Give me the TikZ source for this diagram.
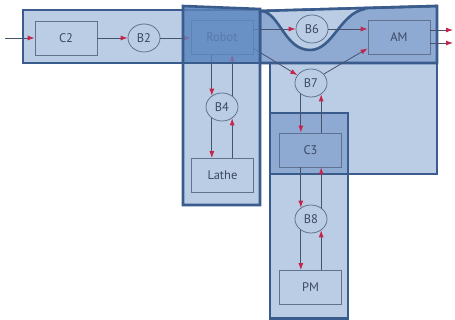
\documentclass[tikz,border=0pt]{standalone}
\usepackage{fontspec}
\setsansfont{PT Sans}
\usetikzlibrary{arrows.meta,shapes.geometric,calc}
\definecolor{lightb}{RGB}{187,205,229}
\definecolor{medb}{RGB}{142,170,211}
\definecolor{overb}{RGB}{95,137,194}
\definecolor{edge}{RGB}{58,92,140}
\definecolor{boxedge}{RGB}{95,115,145}
\definecolor{linec}{RGB}{70,82,110}
\definecolor{tipc}{RGB}{200,35,75}
\definecolor{txt}{RGB}{60,72,100}
\begin{document}
\begin{tikzpicture}[x=1pt,y=-1pt,
  region/.style={draw=edge,line width=2.6pt,line join=miter},
  box/.style={draw=boxedge,line width=0.8pt,minimum width=62pt,minimum height=34pt,inner sep=0pt,font=\sffamily\fontsize{12.5}{14}\selectfont,text=txt},
  buf/.style={ellipse,draw=boxedge,line width=0.8pt,minimum width=32pt,minimum height=28pt,inner sep=0pt,font=\sffamily\fontsize{12.5}{14}\selectfont,text=txt},
  flow/.style={draw=linec,line width=0.8pt,-{Latex[length=7pt,width=5pt,color=tipc]}}]
\useasboundingbox (0,0) rectangle (455,320);
% big right rectangle and C3 column
\fill[lightb] (270,20) rectangle (437,174);
\fill[lightb] (270,113) rectangle (348,318.5);
\fill[medb] (270,113) rectangle (348,174);
\draw[region] (270,20) rectangle (437,174);
\draw[region] (270,113) rectangle (348,318.5);
% top-left band
\draw[region,fill=lightb] (23,10) rectangle (260,63);
% top-right band with wave
\draw[region,fill=medb] (260,11) -- (437,6) -- (437,63) -- (260,63) -- cycle;
\fill[lightb] (262,11) .. controls (280,14) and (285,50) .. (310,50) .. controls (333,50) and (340,13) .. (365,9) -- cycle;
\draw[region] (262,11) .. controls (280,14) and (285,50) .. (310,50) .. controls (333,50) and (340,13) .. (365,9);
\draw[region] (260,11) -- (437,6);
% robot column
\fill[lightb] (183,63) rectangle (260,205);
\fill[medb] (183,6) -- (260,9) -- (260,63) -- (183,63) -- cycle;
\draw[edge,line width=1.6pt] (183,10) -- (260,10);
% nodes
\node[box,fill=lightb] (c2) at (66,38) {C2};
\node[buf,fill=lightb] (b2) at (144,38) {B2};
\node[box,fill=medb] (robot) at (222,37) {Robot};
\node[buf,fill=lightb] (b6) at (312,29) {B6};
\node[box,fill=medb] (am) at (399,37) {AM};
\node[buf,fill=lightb] (b7) at (311,83) {B7};
\node[buf,fill=lightb] (b4) at (222,107) {B4};
\node[box,fill=lightb] (lathe) at (222.5,175.5) {Lathe};
\node[box,fill=medb] (c3) at (310.5,150) {C3};
\node[buf,fill=lightb] (b8) at (311,219) {B8};
\node[box,fill=lightb] (pm) at (310.5,287.5) {PM};
\coordinate (in) at (5,38);
\coordinate (o1) at (453,30);
\coordinate (o2) at (453,43);
% connectors
\draw[flow] (in) -- (c2.west);
\draw[flow] (c2) -- (b2);
\draw[flow] (b2.east) -- (b2.east -| robot.west);
\draw[flow] (robot.east |- b6.west) -- (b6.west);
\draw[flow] (b6.east) -- (b6.east -| am.west);
\draw[flow] ($(robot.south east)+(0,-6)$) -- (b7.150);
\draw[flow] (b7.35) -- ($(am.south west)+(0,-6)$);
\draw[flow] (am.east |- o1) -- (o1);
\draw[flow] (am.east |- o2) -- (o2);
\draw[flow] (b4.132 |- robot.south) -- (b4.132);
\draw[flow] (b4.48) -- (b4.48 |- robot.south);
\draw[flow] (b4.228) -- (b4.228 |- lathe.north);
\draw[flow] (b4.312 |- lathe.north) -- (b4.312);
\draw[flow] (b7.228) -- (b7.228 |- c3.north);
\draw[flow] (b7.312 |- c3.north) -- (b7.312);
\draw[flow] (b8.132 |- c3.south) -- (b8.132);
\draw[flow] (b8.48) -- (b8.48 |- c3.south);
\draw[flow] (b8.228) -- (b8.228 |- pm.north);
\draw[flow] (b8.312 |- pm.north) -- (b8.312);
% robot overlay
\fill[overb,fill opacity=0.75] (183,6) -- (260,9) -- (260,63) -- (183,63) -- cycle;
\draw[region] (183,6) -- (260,9) -- (260,205) -- (183,205) -- cycle;
\draw[region] (183,63) -- (260,63);
\end{tikzpicture}
\end{document}
